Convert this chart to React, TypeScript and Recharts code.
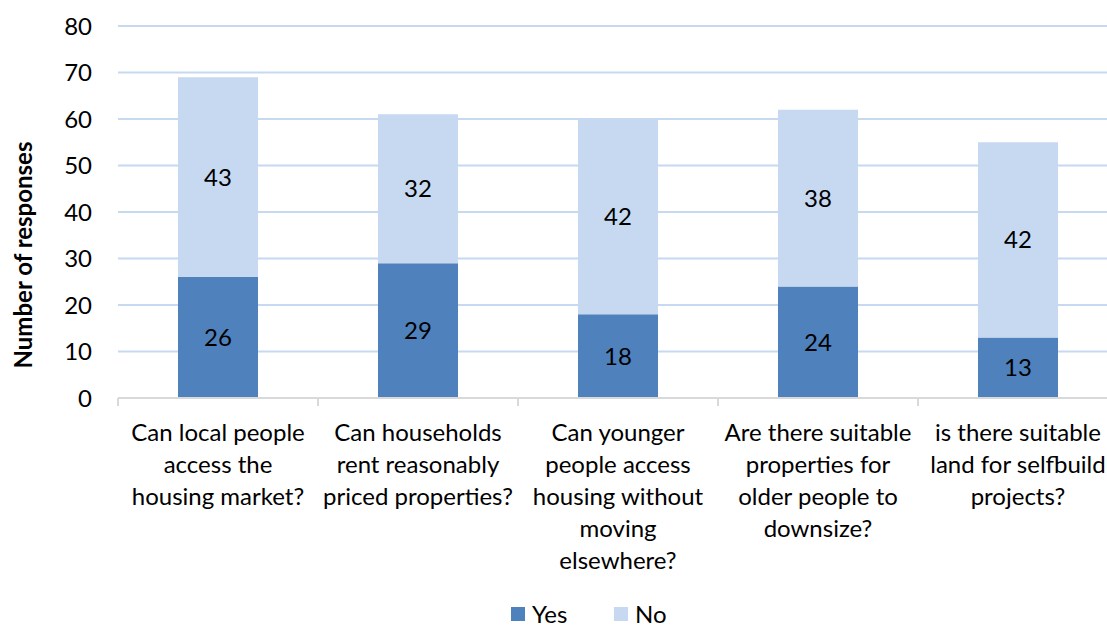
import React from 'react';
import {
  BarChart,
  Bar,
  XAxis,
  YAxis,
  CartesianGrid,
  Legend,
  LabelList,
} from 'recharts';

// values
const questions = [
  'Can local people access the housing market?',
  'Can households rent reasonably priced properties?',
  'Can younger people access housing without moving elsewhere?',
  'Are there suitable properties for older people to downsize?',
  'is there suitable land for selfbuild projects?',
];
const questionLines = [
  ['Can local people', 'access the', 'housing market?'],
  ['Can households', 'rent reasonably', 'priced properties?'],
  ['Can younger', 'people access', 'housing without', 'moving', 'elsewhere?'],
  ['Are there suitable', 'properties for', 'older people to', 'downsize?'],
  ['is there suitable', 'land for selfbuild', 'projects?'],
];
const yesValues = [26, 29, 18, 24, 13];
const noValues = [43, 32, 42, 38, 42];
const yTicks = [0, 10, 20, 30, 40, 50, 60, 70, 80];

const data = questions.map((q, i) => ({
  question: q,
  yes: yesValues[i],
  no: noValues[i],
}));

const FONT = 'Lato, "Open Sans", sans-serif';
const FS = 24;
const YES_COLOR = '#4f81bd';
const NO_COLOR = '#c6d9f1';
const GRID_COLOR = '#c6d9f1';
const AXIS_COLOR = '#d9d9d9';

const CHART_W = 1130;
const CHART_H = 630;
const Y_AXIS_W = 118;
const RIGHT = 12;
const BAND = (CHART_W - Y_AXIS_W - RIGHT) / questions.length;

function CategoryTick(props: any) {
  const { x, y, payload, index } = props;
  const idx = payload.index ?? index;
  const lines = questionLines[idx] || [String(payload.value)];
  const half = BAND / 2;
  const isLast = idx === questions.length - 1;
  return (
    <g>
      <line x1={x - half} x2={x - half} y1={y - 8} y2={y} stroke={AXIS_COLOR} strokeWidth={2} />
      {isLast && (
        <line x1={x + half} x2={x + half} y1={y - 8} y2={y} stroke={AXIS_COLOR} strokeWidth={2} />
      )}
      <text x={x} y={y} textAnchor="middle" fontFamily={FONT} fontSize={FS} fill="#000">
        {lines.map((l, i) => (
          <tspan key={i} x={x} dy={i === 0 ? 35 : 32}>
            {l}
          </tspan>
        ))}
      </text>
    </g>
  );
}

function YLabel() {
  return (
    <text
      x={0}
      y={0}
      transform="translate(32, 255) rotate(-90)"
      textAnchor="middle"
      fontFamily={FONT}
      fontWeight="bold"
      fontSize={24}
      fill="#000"
    >
      Number of responses
    </text>
  );
}

function LegendContent() {
  const item = (color: string, label: string, width: number) => (
    <div style={{ display: 'flex', alignItems: 'center', width }}>
      <span style={{ display: 'inline-block', width: 14, height: 14, background: color, marginRight: 7 }} />
      <span style={{ fontFamily: FONT, fontSize: FS, color: '#000', lineHeight: '26px' }}>{label}</span>
    </div>
  );
  return (
    <div
      style={{
        display: 'flex',
        height: 44,
        paddingLeft: 511,
        paddingBottom: 3,
        alignItems: 'flex-end',
        boxSizing: 'border-box',
      }}
    >
      {item(YES_COLOR, 'Yes', 103)}
      {item(NO_COLOR, 'No', 80)}
    </div>
  );
}

export default function App() {
  return (
    <div
      style={{
        position: 'fixed',
        left: 0,
        top: 0,
        width: 1107,
        height: 630,
        overflow: 'hidden',
        background: '#fff',
      }}
    >
      <BarChart
        width={CHART_W}
        height={CHART_H}
        data={data}
        margin={{ top: 26, right: RIGHT, left: 0, bottom: 0 }}
      >
        <CartesianGrid vertical={false} stroke={GRID_COLOR} strokeWidth={2} />
        <XAxis
          dataKey="question"
          interval={0}
          height={188}
          tickLine={false}
          axisLine={{ stroke: AXIS_COLOR, strokeWidth: 2 }}
          tick={<CategoryTick />}
        />
        <YAxis
          width={Y_AXIS_W}
          domain={[0, 80]}
          ticks={yTicks}
          tickLine={false}
          axisLine={false}
          tickSize={6}
          tickMargin={20}
          tick={{ fontFamily: FONT, fontSize: FS, fill: '#000' }}
          label={<YLabel />}
        />
        <Legend
          verticalAlign="bottom"
          content={<LegendContent />}
          wrapperStyle={{ left: 0, width: CHART_W, height: 44 }}
        />
        <Bar dataKey="yes" name="Yes" stackId="a" fill={YES_COLOR} barSize={80} isAnimationActive={false}>
          <LabelList dataKey="yes" position="center" fill="#000" fontFamily={FONT} fontSize={FS} />
        </Bar>
        <Bar dataKey="no" name="No" stackId="a" fill={NO_COLOR} barSize={80} isAnimationActive={false}>
          <LabelList dataKey="no" position="center" fill="#000" fontFamily={FONT} fontSize={FS} />
        </Bar>
      </BarChart>
    </div>
  );
}
